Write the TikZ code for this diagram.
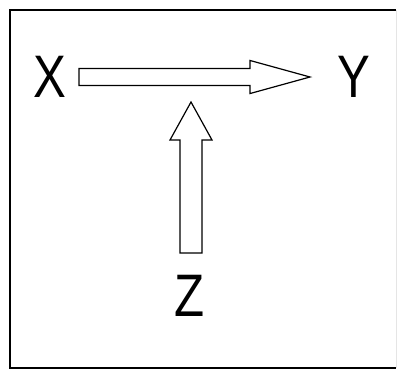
\documentclass[tikz,border=0pt]{standalone}
\usepackage{fontspec}
\setmainfont[FakeStretch=0.82]{Liberation Sans}
\usetikzlibrary{calc}

% block arrow: from, to, shaft half width, head half width, head length
\newcommand\fatarrow[5]{%
  \draw[line width=0.9pt, line join=miter, fill=white]
    ($(#1)!#3!90:(#2)$) -- ($(#2)!#5!(#1)!#3!90:(#2)$) -- ($(#2)!#5!(#1)!#4!90:(#2)$)
    -- (#2) -- ($(#2)!#5!(#1)!#4!-90:(#2)$) -- ($(#2)!#5!(#1)!#3!-90:(#2)$)
    -- ($(#1)!#3!-90:(#2)$) -- cycle;}

\begin{document}
\begin{tikzpicture}[x=0.75pt,y=-0.75pt,font=\fontsize{45}{54}\selectfont,line width=0.9pt]
  \useasboundingbox (0,0) rectangle (398,376);
  \draw (396,10) -- (10,10) -- (10,368) -- (396,368);
  \draw[black!10,line width=0.4pt] (396,10) -- (396,368);
  \node (x) at (50,77) {X};
  \node (y) at (354,77) {Y};
  \node (z) at (190,296) {Z};
  \fatarrow{$(x)+(29,0)$}{$(y)+(-44,0)$}{6.4pt}{12.4pt}{45pt}
  \fatarrow{$(z)+(1,-43)$}{$(x-|z)+(1,25)$}{8.25pt}{15.75pt}{28.5pt}
\end{tikzpicture}
\end{document}
